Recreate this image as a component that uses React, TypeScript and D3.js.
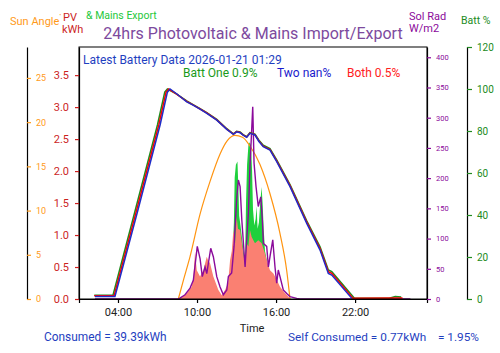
import React, { useEffect, useRef } from 'react';
import * as d3 from 'd3';

type Pt = [number, number]; // [hour since 2026-01-20 00:00, value]

// battery state of charge, %
const battOne: Pt[] = [
  [2.2, 1.8], [3.62, 1.8], [5.3, 42], [7.0, 83], [7.55, 98.5], [7.75, 100], [8.4, 97.8],
  [9.22, 94.3], [9.7, 92.6], [10.2, 90.8], [10.74, 88.8], [11.5, 85.5], [12.26, 81.1],
  [12.76, 78.7], [13.01, 79.9], [13.27, 79.5], [13.5, 78.3], [13.77, 77.3], [14.02, 79.2],
  [14.4, 78.5], [14.7, 75.6], [15.03, 73.2], [15.54, 71.6], [16.05, 66.3], [17.06, 54.5],
  [18.33, 37.2], [19.34, 24.8], [19.97, 13.8], [20.23, 13.0], [21.95, 0.4], [24.6, 0.4],
  [25.05, 1.2], [25.5, 0.9],
];
const battTwo: Pt[] = [
  [2.25, 1.2], [3.77, 1.2], [5.5, 42], [7.2, 83], [7.75, 98.5], [7.95, 100], [8.5, 97.5],
  [9.22, 93.9], [9.7, 92.3], [10.2, 90.5], [10.74, 88.4], [11.5, 85.2], [12.26, 80.8],
  [12.76, 78.4], [13.01, 79.6], [13.27, 79.2], [13.5, 78], [13.77, 77], [14.02, 78.9],
  [14.4, 78.1], [14.7, 75], [15.03, 72.5], [15.54, 70.9], [16.05, 65.4], [17.06, 53.5],
  [18.33, 36], [19.34, 23.3], [19.97, 12.2], [20.23, 11.4], [21.75, 0.3],
];
const battBoth: Pt[] = [
  [2.2, 1.5], [3.7, 1.5], [5.4, 42], [7.1, 83], [7.65, 98.5], [7.85, 100], [8.45, 97.6],
  [9.22, 94.1], [9.7, 92.4], [10.2, 90.6], [10.74, 88.6], [11.5, 85.3], [12.26, 80.9],
  [12.76, 78.5], [13.01, 79.7], [13.27, 79.3], [13.5, 78.1], [13.77, 77.1], [14.02, 79],
  [14.4, 78.3], [14.7, 75.3], [15.03, 72.8], [15.54, 71.2], [16.05, 65.8], [17.06, 54],
  [18.33, 36.6], [19.34, 24], [19.97, 13], [20.23, 12.2], [21.85, 0.3], [25.6, 0.5],
];

// sun elevation, degrees
const sunAngle: Pt[] = [
  [8.58, 0], [9.0, 2.3], [9.47, 4.8], [10.23, 9.6], [10.99, 13.3], [11.75, 16.4],
  [12.3, 17.9], [12.88, 18.5], [13.45, 18.3], [14.02, 17.3], [14.78, 15.2], [15.54, 11.9],
  [16.3, 7.4], [16.81, 3.2], [17.06, 0],
];

// solar radiation, W/m2
const solRad: Pt[] = [
  [2.25, 0], [8.58, 0], [9.09, 7], [9.47, 18], [9.72, 31], [10.02, 87], [10.23, 67],
  [10.4, 37], [10.61, 53], [10.74, 42], [11.04, 84], [11.24, 70], [11.5, 37], [11.75, 20],
  [12.0, 7], [12.26, 15], [12.38, 37], [12.63, 43], [12.81, 87], [13.01, 166], [13.14, 197],
  [13.27, 186], [13.4, 131], [13.65, 53], [13.77, 98], [13.9, 142], [14.02, 219],
  [14.23, 318], [14.33, 225], [14.48, 186], [14.65, 153], [14.84, 169], [14.96, 131],
  [15.04, 92], [15.29, 87], [15.42, 53], [15.54, 70], [15.75, 98], [15.92, 53], [16.05, 26],
  [16.17, 48], [16.3, 37], [16.55, 15], [16.81, 9], [17.06, 4], [17.57, 1], [17.82, 0],
  [26.2, 0],
];

// PV generation, kWh
const pvKwh: Pt[] = [
  [8.58, 0], [8.94, 0.05], [9.22, 0.09], [9.6, 0.19], [9.73, 0.35], [9.85, 0.74],
  [9.98, 0.45], [10.23, 0.35], [10.48, 0.45], [10.74, 0.66], [10.84, 0.6], [10.99, 0.56],
  [11.24, 0.35], [11.62, 0.14], [11.88, 0.06], [12.13, 0.14], [12.36, 0.25], [12.51, 0.61],
  [12.64, 0.75], [12.76, 1.08], [12.89, 0.87], [13.01, 1.29], [13.11, 1.1], [13.27, 1.08],
  [13.52, 0.71], [13.65, 0.5], [13.77, 0.87], [13.9, 0.82], [14.02, 1.08], [14.15, 0.97],
  [14.4, 0.87], [14.65, 0.92], [14.91, 0.87], [15.16, 0.71], [15.29, 0.61], [15.54, 0.45],
  [15.8, 0.4], [16.05, 0.3], [16.3, 0.19], [16.68, 0.09], [16.93, 0.04], [17.06, 0],
];

// mains export, kWh
const mainsExport: Pt[] = [
  [12.7, 0.7], [12.8, 1.2], [12.86, 1.9], [12.95, 2.1], [13.07, 2.15], [13.13, 1.8],
  [13.2, 1.3], [13.3, 1.15], [13.5, 0.8], [13.65, 0.6], [13.72, 1.5], [13.8, 2.1],
  [13.9, 2.4], [14.0, 2.45], [14.1, 2.4], [14.18, 2.0], [14.25, 1.4], [14.35, 1.15],
  [14.45, 1.25], [14.52, 1.45], [14.6, 1.1], [14.7, 1.2], [14.8, 1.5], [14.9, 1.75],
  [14.98, 1.5], [15.06, 1.1], [15.16, 0.75], [15.3, 0.6],
];

const timeTicks = [4, 10, 16, 22];
const pvTicks = [0, 0.5, 1, 1.5, 2, 2.5, 3, 3.5];
const sunTicks = [0, 5, 10, 15, 20, 25];
const radTicks = [0, 50, 100, 150, 200, 250, 300, 350, 400];
const battTicks = [0, 20, 40, 60, 80, 100, 120];

const base = new Date(2026, 0, 20, 0, 0).getTime();
const h2d = (h: number) => new Date(base + h * 3600000);

const FONT = 'Roboto, "Noto Sans", sans-serif';

const App: React.FC = () => {
  const svgRef = useRef<SVGSVGElement>(null);

  useEffect(() => {
    if (!svgRef.current) return;
    const svg = d3.select(svgRef.current);
    svg.selectAll('*').remove();
    svg.style('font-family', FONT);

    const left = 79, right = 427, top = 47, bottom = 299;

    const x = d3.scaleTime().domain([h2d(1.04), h2d(27.46)]).range([left, right]);
    const yPv = d3.scaleLinear().domain([0, 3.94]).range([bottom, top]);
    const ySun = d3.scaleLinear().domain([0, 28.5]).range([bottom, top]);
    const yRad = d3.scaleLinear().domain([0, 417]).range([bottom, top]);
    const yBatt = d3.scaleLinear().domain([0, 120]).range([bottom, top]);

    const plot = svg.append('g');

    // Mains export fill (behind PV)
    const area = (ys: d3.ScaleLinear<number, number>) =>
      d3.area<Pt>().x(d => x(h2d(d[0]))).y0(ys(0)).y1(d => ys(d[1]));
    plot.append('path').datum(mainsExport).attr('fill', '#1ed03c').attr('d', area(yPv));
    plot.append('path').datum(pvKwh).attr('fill', '#fa8072').attr('d', area(yPv));

    const lineOf = (ys: d3.ScaleLinear<number, number>, curve: d3.CurveFactory = d3.curveLinear) =>
      d3.line<Pt>().x(d => x(h2d(d[0]))).y(d => ys(d[1])).curve(curve);

    plot.append('path').datum(sunAngle).attr('fill', 'none').attr('stroke', '#ff9410')
      .attr('stroke-width', 1.2).attr('d', lineOf(ySun, d3.curveMonotoneX));
    plot.append('path').datum(solRad).attr('fill', 'none').attr('stroke', '#8b0a9b')
      .attr('stroke-width', 1.4).attr('d', lineOf(yRad));

    const battSeries: { data: Pt[]; color: string }[] = [
      { data: battOne, color: '#1e8c1e' },
      { data: battBoth, color: '#ff0000' },
      { data: battTwo, color: '#1f2cc8' },
    ];
    battSeries.forEach(s => {
      plot.append('path').datum(s.data).attr('fill', 'none').attr('stroke', s.color)
        .attr('stroke-width', 1.5).attr('d', lineOf(yBatt));
    });

    // Plot frame
    svg.append('rect').attr('x', left).attr('y', top).attr('width', right - left)
      .attr('height', bottom - top).attr('fill', 'none').attr('stroke', '#000').attr('stroke-width', 1);

    const styleAxis = (g: d3.Selection<SVGGElement, unknown, null, undefined>, color: string, size: number) => {
      g.select('.domain').attr('stroke', '#000').attr('stroke-width', 1.2);
      g.selectAll('.tick line').attr('stroke', color).attr('stroke-width', 1.2);
      g.selectAll('.tick text').attr('fill', color).style('font-size', `${size}px`).style('font-family', FONT);
    };

    // X axis
    const gx = svg.append('g').attr('transform', `translate(0,${bottom})`)
      .call(d3.axisBottom(x).tickValues(timeTicks.map(h2d)).tickSize(4).tickPadding(5)
        .tickFormat(d => d3.timeFormat('%H:%M')(d as Date)));
    styleAxis(gx, '#000', 11);
    gx.selectAll('.tick text').attr('fill', '#222');

    // PV kWh axis
    const gPv = svg.append('g').attr('transform', `translate(${left},0)`)
      .call(d3.axisLeft(yPv).tickValues(pvTicks).tickSize(4).tickPadding(6).tickFormat(d3.format('.1f')).tickSizeOuter(0));
    styleAxis(gPv, '#cc1f1f', 11);

    // Sun angle axis
    const gSun = svg.append('g').attr('transform', 'translate(27,0)')
      .call(d3.axisRight(ySun).tickValues(sunTicks).tickSize(4).tickPadding(5).tickSizeOuter(0));
    styleAxis(gSun, '#ff9a1a', 9);

    // Sol rad axis
    const gRad = svg.append('g').attr('transform', `translate(${right},0)`)
      .call(d3.axisRight(yRad).tickValues(radTicks).tickSize(4).tickPadding(5).tickSizeOuter(0));
    styleAxis(gRad, '#8b0a9b', 7.5);

    // Battery axis
    const gBatt = svg.append('g').attr('transform', 'translate(467,0)')
      .call(d3.axisRight(yBatt).tickValues(battTicks).tickSize(5).tickPadding(5).tickSizeOuter(5));
    styleAxis(gBatt, '#228b22', 10);

    const text = (tx: number, ty: number, s: string, color: string, size: number, anchor = 'start') =>
      svg.append('text').attr('x', tx).attr('y', ty).attr('fill', color).attr('text-anchor', anchor)
        .style('font-size', `${size}px`).style('white-space', 'pre').text(s);

    // Title and header labels
    text(253, 39, '24hrs Photovoltaic & Mains Import/Export', '#7d4a9e', 16, 'middle');
    text(10, 25, 'Sun Angle', '#ff9a1a', 11);
    text(59, 19, '·', '#ff9a1a', 10);
    text(63, 21, 'PV', '#cc1f1f', 11);
    text(62, 33, 'kWh', '#cc1f1f', 11);
    text(86, 19, '& Mains Export', '#1ec83c', 10.5);
    text(409, 20, 'Sol Rad', '#8b0a9b', 11);
    text(409, 32, 'W/m2', '#8b0a9b', 11);
    text(461, 24, 'Batt %', '#228b22', 10.5);

    // In-plot battery info
    text(83, 64, 'Latest Battery Data 2026-01-21 01:29', '#1f3fbf', 12);
    text(183, 77, 'Batt One 0.9%', '#1a9a1a', 12);
    text(277, 77, 'Two nan%', '#1a1acc', 12);
    text(347, 77, 'Both 0.5%', '#ff2020', 12);

    // Footer
    text(252, 332, 'Time', '#222', 11, 'middle');
    text(44, 341, 'Consumed = 39.39kWh', '#1f3fbf', 11.9);
    text(288, 341, 'Self Consumed = 0.77kWh    = 1.95%', '#1f3fbf', 11.8);
  }, []);

  return (
    <svg ref={svgRef} width={500} height={353}
      style={{ position: 'absolute', left: 0, top: 0, background: '#fff' }} />
  );
};

export default App;
